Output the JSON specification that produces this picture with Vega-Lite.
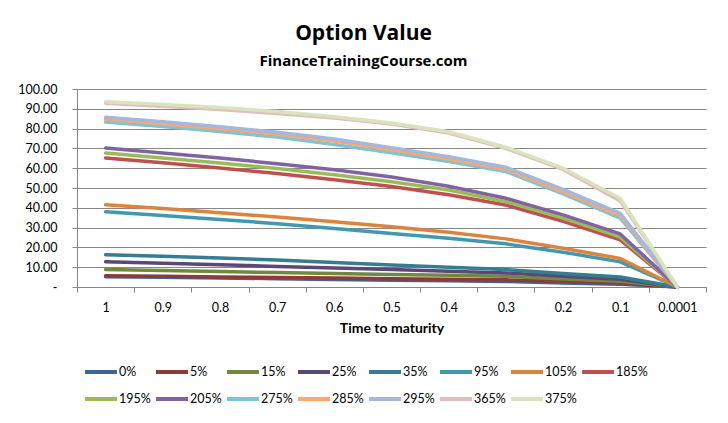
{
"$schema":"https://vega.github.io/schema/vega-lite/v6.json",
"width":629,"height":198,
"autosize":{"type":"none"},
"padding":{"left":77,"top":89,"right":22,"bottom":136},
"background":"white",
"title":{"text":"Option Value","subtitle":"FinanceTrainingCourse.com","anchor":"middle","dx":-28,"offset":14,"font":"Open Sans","fontSize":21,"fontWeight":"bold","color":"black","subtitleFont":"Open Sans","subtitleFontSize":15,"subtitleFontWeight":"bold","subtitleColor":"black","subtitlePadding":10},
"config":{"view":{"stroke":null},"font":"Lato"},
"data":{"values":[
{"t":"1","s":"0%","v":5.2},{"t":"0.9","s":"0%","v":4.9},{"t":"0.8","s":"0%","v":4.6},{"t":"0.7","s":"0%","v":4.2},{"t":"0.6","s":"0%","v":3.8},{"t":"0.5","s":"0%","v":3.4},{"t":"0.4","s":"0%","v":3.1},{"t":"0.3","s":"0%","v":2.8},{"t":"0.2","s":"0%","v":2.0},{"t":"0.1","s":"0%","v":1.4},{"t":"0.0001","s":"0%","v":0},
{"t":"1","s":"5%","v":5.7},{"t":"0.9","s":"5%","v":5.4},{"t":"0.8","s":"5%","v":5.1},{"t":"0.7","s":"5%","v":4.8},{"t":"0.6","s":"5%","v":4.5},{"t":"0.5","s":"5%","v":4.2},{"t":"0.4","s":"5%","v":3.9},{"t":"0.3","s":"5%","v":3.6},{"t":"0.2","s":"5%","v":2.9},{"t":"0.1","s":"5%","v":2.0},{"t":"0.0001","s":"5%","v":0},
{"t":"1","s":"15%","v":8.8},{"t":"0.9","s":"15%","v":8.3},{"t":"0.8","s":"15%","v":7.8},{"t":"0.7","s":"15%","v":7.3},{"t":"0.6","s":"15%","v":6.8},{"t":"0.5","s":"15%","v":6.3},{"t":"0.4","s":"15%","v":5.9},{"t":"0.3","s":"15%","v":5.4},{"t":"0.2","s":"15%","v":4.1},{"t":"0.1","s":"15%","v":2.9},{"t":"0.0001","s":"15%","v":0},
{"t":"1","s":"25%","v":12.8},{"t":"0.9","s":"25%","v":12.0},{"t":"0.8","s":"25%","v":11.2},{"t":"0.7","s":"25%","v":10.4},{"t":"0.6","s":"25%","v":9.6},{"t":"0.5","s":"25%","v":8.8},{"t":"0.4","s":"25%","v":8.0},{"t":"0.3","s":"25%","v":7.1},{"t":"0.2","s":"25%","v":5.4},{"t":"0.1","s":"25%","v":3.9},{"t":"0.0001","s":"25%","v":0},
{"t":"1","s":"35%","v":16.3},{"t":"0.9","s":"35%","v":15.5},{"t":"0.8","s":"35%","v":14.6},{"t":"0.7","s":"35%","v":13.6},{"t":"0.6","s":"35%","v":12.4},{"t":"0.5","s":"35%","v":11.1},{"t":"0.4","s":"35%","v":10.0},{"t":"0.3","s":"35%","v":8.8},{"t":"0.2","s":"35%","v":6.8},{"t":"0.1","s":"35%","v":5.1},{"t":"0.0001","s":"35%","v":0},
{"t":"1","s":"95%","v":38.0},{"t":"0.9","s":"95%","v":36.1},{"t":"0.8","s":"95%","v":34.1},{"t":"0.7","s":"95%","v":32.0},{"t":"0.6","s":"95%","v":29.6},{"t":"0.5","s":"95%","v":27.0},{"t":"0.4","s":"95%","v":24.6},{"t":"0.3","s":"95%","v":21.8},{"t":"0.2","s":"95%","v":17.6},{"t":"0.1","s":"95%","v":12.7},{"t":"0.0001","s":"95%","v":0},
{"t":"1","s":"105%","v":41.6},{"t":"0.9","s":"105%","v":39.6},{"t":"0.8","s":"105%","v":37.5},{"t":"0.7","s":"105%","v":35.3},{"t":"0.6","s":"105%","v":32.9},{"t":"0.5","s":"105%","v":30.4},{"t":"0.4","s":"105%","v":27.6},{"t":"0.3","s":"105%","v":24.3},{"t":"0.2","s":"105%","v":19.6},{"t":"0.1","s":"105%","v":14.4},{"t":"0.0001","s":"105%","v":0},
{"t":"1","s":"185%","v":65.2},{"t":"0.9","s":"185%","v":62.7},{"t":"0.8","s":"185%","v":60.1},{"t":"0.7","s":"185%","v":57.3},{"t":"0.6","s":"185%","v":54.2},{"t":"0.5","s":"185%","v":50.8},{"t":"0.4","s":"185%","v":46.6},{"t":"0.3","s":"185%","v":41.4},{"t":"0.2","s":"185%","v":33.2},{"t":"0.1","s":"185%","v":23.8},{"t":"0.0001","s":"185%","v":0},
{"t":"1","s":"195%","v":67.7},{"t":"0.9","s":"195%","v":65.2},{"t":"0.8","s":"195%","v":62.6},{"t":"0.7","s":"195%","v":59.8},{"t":"0.6","s":"195%","v":56.7},{"t":"0.5","s":"195%","v":53.2},{"t":"0.4","s":"195%","v":49.0},{"t":"0.3","s":"195%","v":43.1},{"t":"0.2","s":"195%","v":34.8},{"t":"0.1","s":"195%","v":25.2},{"t":"0.0001","s":"195%","v":0},
{"t":"1","s":"205%","v":70.2},{"t":"0.9","s":"205%","v":67.7},{"t":"0.8","s":"205%","v":65.1},{"t":"0.7","s":"205%","v":62.3},{"t":"0.6","s":"205%","v":59.2},{"t":"0.5","s":"205%","v":55.6},{"t":"0.4","s":"205%","v":50.9},{"t":"0.3","s":"205%","v":44.8},{"t":"0.2","s":"205%","v":36.4},{"t":"0.1","s":"205%","v":26.8},{"t":"0.0001","s":"205%","v":0},
{"t":"1","s":"275%","v":83.3},{"t":"0.9","s":"275%","v":81.0},{"t":"0.8","s":"275%","v":78.5},{"t":"0.7","s":"275%","v":75.7},{"t":"0.6","s":"275%","v":72.0},{"t":"0.5","s":"275%","v":67.8},{"t":"0.4","s":"275%","v":63.4},{"t":"0.3","s":"275%","v":58.3},{"t":"0.2","s":"275%","v":47.0},{"t":"0.1","s":"275%","v":34.8},{"t":"0.0001","s":"275%","v":0},
{"t":"1","s":"285%","v":84.7},{"t":"0.9","s":"285%","v":82.4},{"t":"0.8","s":"285%","v":79.9},{"t":"0.7","s":"285%","v":77.1},{"t":"0.6","s":"285%","v":73.7},{"t":"0.5","s":"285%","v":69.3},{"t":"0.4","s":"285%","v":64.6},{"t":"0.3","s":"285%","v":59.5},{"t":"0.2","s":"285%","v":48.1},{"t":"0.1","s":"285%","v":36.0},{"t":"0.0001","s":"285%","v":0},
{"t":"1","s":"295%","v":85.7},{"t":"0.9","s":"295%","v":83.4},{"t":"0.8","s":"295%","v":80.9},{"t":"0.7","s":"295%","v":78.1},{"t":"0.6","s":"295%","v":74.8},{"t":"0.5","s":"295%","v":70.4},{"t":"0.4","s":"295%","v":65.8},{"t":"0.3","s":"295%","v":60.5},{"t":"0.2","s":"295%","v":49.3},{"t":"0.1","s":"295%","v":37.2},{"t":"0.0001","s":"295%","v":0},
{"t":"1","s":"365%","v":92.8},{"t":"0.9","s":"365%","v":91.3},{"t":"0.8","s":"365%","v":89.6},{"t":"0.7","s":"365%","v":87.6},{"t":"0.6","s":"365%","v":85.3},{"t":"0.5","s":"365%","v":82.3},{"t":"0.4","s":"365%","v":77.8},{"t":"0.3","s":"365%","v":70.0},{"t":"0.2","s":"365%","v":59.4},{"t":"0.1","s":"365%","v":43.5},{"t":"0.0001","s":"365%","v":0},
{"t":"1","s":"375%","v":93.6},{"t":"0.9","s":"375%","v":92.2},{"t":"0.8","s":"375%","v":90.6},{"t":"0.7","s":"375%","v":88.6},{"t":"0.6","s":"375%","v":86.0},{"t":"0.5","s":"375%","v":82.8},{"t":"0.4","s":"375%","v":78.4},{"t":"0.3","s":"375%","v":70.6},{"t":"0.2","s":"375%","v":60.0},{"t":"0.1","s":"375%","v":44.8},{"t":"0.0001","s":"375%","v":0}
]},
"mark":{"type":"line","strokeWidth":3.5,"strokeCap":"round","strokeJoin":"round"},
"encoding":{
"x":{"field":"t","type":"nominal","sort":["1","0.9","0.8","0.7","0.6","0.5","0.4","0.3","0.2","0.1","0.0001"],"scale":{"type":"band","paddingInner":0,"paddingOuter":0},
 "axis":{"title":"Time to maturity","titleFont":"Lato","titleFontSize":14,"titleFontWeight":"bold","titleColor":"black","titlePadding":8,"labelAngle":0,"labelFont":"Lato","labelFontSize":12.5,"labelColor":"black","labelPadding":9,"tickBand":"extent","tickSize":5,"tickColor":"#868686","domainColor":"#868686","grid":false}},
"y":{"field":"v","type":"quantitative","scale":{"domain":[0,100],"nice":false},
 "axis":{"title":null,"values":[0,10,20,30,40,50,60,70,80,90,100],"labelExpr":"datum.value == 0 ? '-\u00a0\u00a0\u00a0' : format(datum.value, '.2f')","labelFont":"Lato","labelFontSize":12.5,"labelColor":"black","labelPadding":15,"tickSize":5,"tickColor":"#868686","domainColor":"#868686","gridColor":"#868686","gridOpacity":1}},
"color":{"field":"s","type":"nominal","sort":null,
 "scale":{"domain":["0%","5%","15%","25%","35%","95%","105%","185%","195%","205%","275%","285%","295%","365%","375%"],
 "range":["#3B6596","#8E3A38","#71893F","#5C4776","#357D91","#4198AF","#DB843D","#C0504D","#9BBB59","#8064A2","#80C2D6","#F9A870","#A5B8DC","#E3BCBC","#D7E4BD"]},
 "legend":{"title":null,"orient":"none","legendX":6,"legendY":265,"direction":"horizontal","columns":8,"gridAlign":"all","symbolType":"stroke","symbolSize":1024,"symbolStrokeWidth":4,"labelFont":"Lato","labelFontSize":12.5,"labelColor":"black","labelOffset":0,"columnPadding":-3,"rowPadding":1,"padding":0}}
}
}
